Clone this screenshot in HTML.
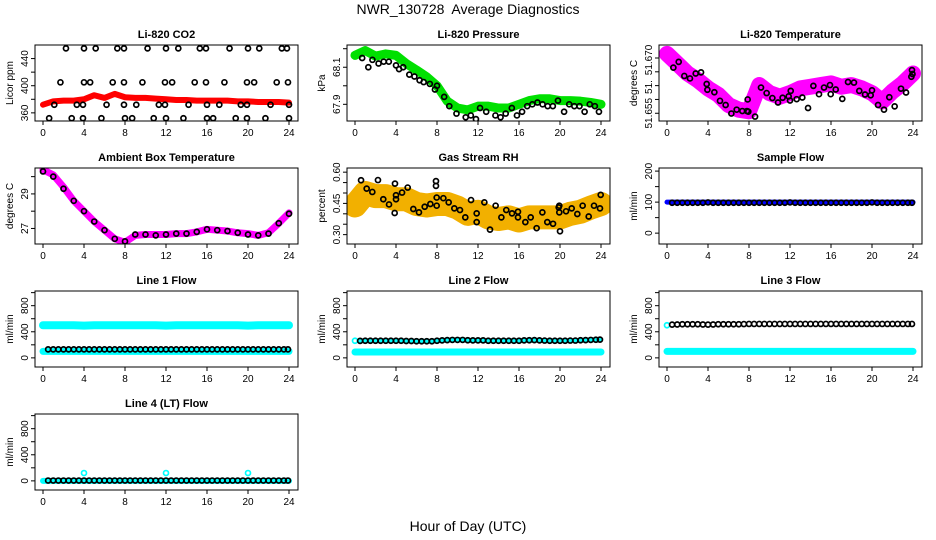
<!DOCTYPE html>
<html><head><meta charset="utf-8"><style>
body{margin:0;background:#fff}
svg{display:block;font-family:"Liberation Sans",sans-serif}
</style></head><body>
<svg id="c" width="936" height="540" viewBox="0 0 936 540">
<text x="468" y="14" text-anchor="middle" font-size="14">NWR_130728&#160; Average Diagnostics</text>
<text x="468" y="531" text-anchor="middle" font-size="14">Hour of Day (UTC)</text>
</svg>
<script>
const hourTicks=[0,4,8,12,16,20,24];
const bandHours=[0,1,2,3,4,5,6,7,8,9,10,11,12,13,14,15,16,17,18,19,20,21,22,23,24];
const halfHours=[0.5,1,1.5,2,2.5,3,3.5,4,4.5,5,5.5,6,6.5,7,7.5,8,8.5,9,9.5,10,10.5,11,11.5,12,12.5,13,13.5,14,14.5,15,15.5,16,16.5,17,17.5,18,18.5,19,19.5,20,20.5,21,21.5,22,22.5,23,23.5,23.9];
// CO2
const co2Band=[372,377,378,378,380,386,382,388,383,382,382,381,380,379,379,378,378,378,378,377,377,376,376,376,375];
const co2CircH=[2.24,4.0,5.14,7.25,7.9,10.2,12.0,13.2,15.3,15.9,18.2,20.0,21.1,23.3,23.8,1.7,4.0,4.6,6.8,7.9,9.7,11.9,12.6,14.8,15.9,17.7,19.9,20.6,22.8,23.9,1.1,3.3,3.9,6.2,7.9,9.1,11.3,11.9,14.2,16.0,17.2,19.3,19.9,22.2,24.0,0.6,2.8,3.9,5.7,8.0,8.7,10.8,12.0,13.7,16.0,16.6,18.8,19.9,21.7,24.0];
const co2CircV=[455,455,455,455,455,455,455,455,455,455,455,455,455,455,455,405,405,405,405,405,405,405,405,405,405,405,405,405,405,405,372,372,372,372,372,372,372,372,372,372,372,372,372,372,372,352,352,352,352,352,352,352,352,352,352,352,352,352,352,352];
// Pressure
const presBand=[68.164,68.19,68.16,68.172,68.164,68.12,68.085,68.048,68.0,67.917,67.88,67.87,67.89,67.89,67.88,67.88,67.9,67.92,67.93,67.93,67.92,67.92,67.917,67.91,67.90];
const presCircH=[0.7,1.3,1.7,2.3,2.8,3.3,4,4.3,4.7,5.3,5.8,6.3,6.7,7.3,7.8,8,8.7,9.2,9.9,10.8,11.3,11.8,12.2,12.8,13.7,14.2,14.7,15.3,15.8,16.3,16.8,17.3,17.8,18.3,18.8,19.3,19.8,20.4,20.9,21.4,21.9,22.4,22.9,23.4,23.8];
const presCircV=[68.15,68.1,68.14,68.12,68.13,68.13,68.11,68.09,68.1,68.06,68.05,68.03,68.02,68.01,67.98,68.0,67.94,67.89,67.85,67.83,67.84,67.82,67.88,67.86,67.84,67.83,67.85,67.88,67.84,67.86,67.89,67.9,67.91,67.9,67.89,67.89,67.92,67.86,67.9,67.89,67.89,67.86,67.9,67.89,67.86];
// Li-820 temperature
const tempBand=[51.6765,51.673,51.6694,51.667,51.664,51.6617,51.658,51.6563,51.6557,51.6652,51.6623,51.661,51.6623,51.664,51.6646,51.6652,51.6658,51.6646,51.6652,51.664,51.6623,51.6593,51.6629,51.6658,51.6694];
const tempCircH=[0.62,1.14,1.69,2.24,2.8,3.32,3.87,3.94,4.62,5.17,5.72,6.28,6.8,7.35,7.8,7.93,7.87,8.59,9.17,9.72,10.28,10.83,11.28,11.87,12.0,12.07,12.65,13.2,13.76,14.28,14.83,15.32,15.9,15.97,16.46,17.1,17.66,18.24,18.76,19.32,19.87,20.0,20.59,21.17,21.69,22.21,22.83,23.32,23.84,23.9,23.95];
const tempCircV=[51.6715,51.6736,51.6685,51.6676,51.6694,51.6698,51.6656,51.6635,51.6626,51.6595,51.658,51.6549,51.6563,51.6558,51.6558,51.6556,51.66,51.6538,51.6643,51.6623,51.6605,51.6589,51.6606,51.6611,51.6596,51.6631,51.6601,51.6607,51.6569,51.6649,51.6619,51.6643,51.6652,51.6619,51.6636,51.6602,51.6663,51.6661,51.6631,51.6618,51.6615,51.6633,51.658,51.6563,51.6608,51.6575,51.6639,51.6625,51.6682,51.6706,51.6692];
// Ambient box temperature
const ambBand=[30.4,30.1,29.4,28.6,28.0,27.4,26.9,26.4,26.2,26.6,26.65,26.65,26.65,26.7,26.7,26.8,26.95,26.9,26.85,26.75,26.7,26.6,26.75,27.3,27.9];
const ambCircV=[30.3,30.0,29.3,28.6,28.0,27.4,26.9,26.4,26.25,26.65,26.65,26.6,26.65,26.7,26.7,26.8,26.95,26.9,26.85,26.75,26.65,26.6,26.7,27.3,27.85];
// Gas stream RH
const rhBand=[0.44,0.50,0.485,0.485,0.47,0.47,0.447,0.44,0.447,0.447,0.43,0.40,0.41,0.383,0.375,0.383,0.368,0.383,0.383,0.383,0.383,0.40,0.41,0.43,0.447];
const rhCircH=[0.59,1.14,1.69,2.24,2.76,3.32,3.87,3.9,4.0,4.0,4.59,5.14,5.69,6.24,6.8,7.35,7.9,7.9,7.97,7.97,8.62,9.14,9.69,10.24,10.76,11.32,11.87,11.87,12.62,13.17,13.72,14.28,14.76,15.32,15.9,15.9,16.62,17.14,17.72,18.28,18.76,19.32,19.87,19.93,19.93,20.0,20.59,21.14,21.69,22.21,22.8,23.32,23.9,23.97];
const rhCircV=[0.561,0.521,0.505,0.562,0.47,0.445,0.404,0.545,0.489,0.47,0.502,0.526,0.423,0.407,0.434,0.447,0.557,0.534,0.478,0.439,0.475,0.455,0.426,0.418,0.383,0.466,0.402,0.36,0.455,0.324,0.439,0.383,0.418,0.402,0.41,0.383,0.36,0.383,0.331,0.407,0.36,0.352,0.431,0.439,0.407,0.316,0.412,0.426,0.399,0.439,0.387,0.439,0.426,0.491];
// Flows
const sampleBand=[100,100,100,100,100,100,100,100,100,100,100,100,100,100,100,100,100,100,100,100,100,100,100,100,100];
const sampleCircV=[98,98,98,98,98,98,98,99,98,98,98,98,98,98,98,98,98,98,98,98,98,98,98,99,98,98,98,98,98,98,98,98,98,98,98,98,98,98,98,99,98,98,98,98,98,98,98,98];
const line1BandHigh=[500,500,500,500,495,500,500,500,500,500,500,500,495,500,500,500,500,500,500,500,495,500,500,500,500];
const line1BandLow=[100,100,100,100,100,100,100,100,100,100,100,100,100,100,100,100,100,100,100,100,100,100,100,100,100];
const line1CircV=[130,130,130,130,130,130,130,130,130,130,130,130,130,130,130,130,130,130,130,130,130,130,130,130,130,130,130,130,130,130,130,130,130,130,130,130,130,130,130,130,130,130,130,130,130,130,130,130];
const line2Band=[90,90,90,90,90,90,90,90,90,90,90,90,90,90,90,90,90,90,90,90,90,90,90,90,90];
const line2CircV=[260,262,262,262,262,262,262,262,262,258,258,255,255,255,255,262,268,272,275,275,275,270,268,268,268,262,262,262,262,262,262,262,268,270,272,268,265,262,262,262,262,265,265,270,272,275,278,280];
const line3Band=[100,100,100,100,100,100,100,100,100,100,100,100,100,100,100,100,100,100,100,100,100,100,100,100,100];
const line3CircV=[510,512,515,515,515,515,512,510,512,515,515,515,515,515,518,520,520,520,520,520,520,520,520,520,520,520,520,520,520,520,520,520,520,520,520,520,520,520,520,520,520,520,520,520,520,520,520,520];
const line4Band=[0,0,0,0,0,0,0,0,0,0,0,0,0,0,0,0,0,0,0,0,0,0,0,0,0];
const line4CircV=[5,5,5,5,5,5,5,5,5,5,5,5,5,5,5,5,5,5,5,5,5,5,5,5,5,5,5,5,5,5,5,5,5,5,5,5,5,5,5,5,5,5,5,5,5,5,5,5];
const line4SpikeH=[4,12,20];
const line4SpikeV=[120,120,120];

const NS='http://www.w3.org/2000/svg';
const svg=document.getElementById('c');
function mk(tag,attrs,parent){const e=document.createElementNS(NS,tag);for(const k in attrs)e.setAttribute(k,attrs[k]);(parent||svg).appendChild(e);return e;}
const ROW_TOP=[45,168,291,414],PH=76;
function panel(col,row,title,ylab,ymin,ymax,ticks,labels,name){
  const g=mk('g',{});
  
  
  const L=col*312+35,R=col*312+298,T=ROW_TOP[row],B=T+PH;
  const xs=h=>col*312+43+h*246/24;
  const ys=v=>T+(ymax-v)/(ymax-ymin)*PH;
  const t=mk('text',{x:(L+R)/2,y:T-7,'text-anchor':'middle','font-size':11,'font-weight':'bold'},g);t.textContent=title;
  
  
  const yl=mk('text',{x:0,y:0,'text-anchor':'middle','font-size':10,transform:`translate(${col*312+13},${(T+B)/2}) rotate(-90)`},g);yl.textContent=ylab;
  
  
  hourTicks.forEach(h=>{const x=xs(h);mk('line',{x1:x,x2:x,y1:B,y2:B+4,stroke:'#000'},g);
    const tl=mk('text',{x:x,y:B+15,'text-anchor':'middle','font-size':10},g);tl.textContent=h;
    
    });
  ticks.forEach((v,i)=>{const y=ys(v);mk('line',{x1:L-4,x2:L,y1:y,y2:y,stroke:'#000'},g);});
  labels.forEach(([v,s])=>{const y=ys(v);const tl=mk('text',{x:0,y:0,'text-anchor':'middle','font-size':10,transform:`translate(${L-7},${y}) rotate(-90)`},g);tl.textContent=s;
    
    });
  const clip='clip'+col+row;
  const cp=mk('clipPath',{id:clip},g);mk('rect',{x:L,y:T,width:R-L,height:PH},cp);
  const plot=mk('g',{'clip-path':`url(#${clip})`},g);
  mk('rect',{x:L,y:T,width:R-L,height:PH,fill:'none',stroke:'#000','stroke-width':1},g);
  return {band(hs,vs,color,w){const p=mk('polyline',{points:hs.map((h,i)=>xs(h)+','+ys(vs[i])).join(' '),fill:'none',stroke:color,'stroke-width':w,'stroke-linejoin':'round','stroke-linecap':'round'},plot);
      
      },
    circles(hs,vs,color){hs.forEach((h,i)=>{const c=mk('circle',{cx:xs(h),cy:ys(vs[i]),r:2.5,fill:'none',stroke:color,'stroke-width':1.7},plot);
      
      });}};
}
let p;
p=panel(0,0,'Li-820 CO2','Licor ppm',348,460,[360,380,400,420,440],[[360,'360'],[400,'400'],[440,'440']],'co2');
p.band(bandHours,co2Band,'#ff0000',6);p.circles(co2CircH,co2CircV,'#000');
p=panel(1,0,'Li-820 Pressure','kPa',67.81,68.22,[67.9,68.0,68.1,68.2],[[67.9,'67.9'],[68.1,'68.1']],'pressure');
p.band(bandHours,presBand,'#00e000',9);p.circles(presCircH,presCircV,'#000');
p=panel(2,0,'Li-820 Temperature','degrees C',51.6522,51.6797,[51.655,51.66,51.665,51.67,51.675],[[51.655,'51.655'],[51.6645,'51.'],[51.6743,'51.670']],'li820-temperature');
p.band(bandHours,tempBand,'#ff00ff',16);p.circles(tempCircH,tempCircV,'#000');
p=panel(0,1,'Ambient Box Temperature','degrees C',26.1,30.5,[27,28,29,30],[[27,'27'],[29,'29']],'ambient-temperature');
p.band(bandHours,ambBand,'#ff00ff',7);p.circles(bandHours,ambCircV,'#000');
p=panel(1,1,'Gas Stream RH','percent',0.255,0.62,[0.30,0.35,0.40,0.45,0.50,0.55,0.60],[[0.30,'0.30'],[0.45,'0.45'],[0.60,'0.60']],'gas-stream-rh');
p.band(bandHours,rhBand,'#f2b000',24);p.circles(rhCircH,rhCircV,'#000');
p=panel(2,1,'Sample Flow','ml/min',-35,210,[0,50,100,150,200],[[0,'0'],[100,'100'],[200,'200']],'sample-flow');
p.band(bandHours,sampleBand,'#0000ff',5);p.circles(halfHours,sampleCircV,'#000');
const fT=[0,200,400,600,800,1000],fL=[[0,'0'],[400,'400'],[800,'800']];
p=panel(0,2,'Line 1 Flow','ml/min',-140,1025,fT,fL,'line1-flow');
p.band(bandHours,line1BandHigh,'#00ffff',8);p.band(bandHours,line1BandLow,'#00ffff',7);p.circles(halfHours,line1CircV,'#000');
p=panel(1,2,'Line 2 Flow','ml/min',-140,1025,fT,fL,'line2-flow');
p.band(bandHours,line2Band,'#00ffff',7);p.band(halfHours,line2CircV,'#00ffff',5);p.circles([0],[262],'#00ffff');p.circles(halfHours,line2CircV,'#000');
p=panel(2,2,'Line 3 Flow','ml/min',-140,1025,fT,fL,'line3-flow');
p.band(bandHours,line3Band,'#00ffff',7);p.circles([0],[500],'#00ffff');p.circles(halfHours,line3CircV,'#000');
p=panel(0,3,'Line 4 (LT) Flow','ml/min',-140,1025,fT,fL,'line4-flow');
p.band(bandHours,line4Band,'#00ffff',6);p.circles(line4SpikeH,line4SpikeV,'#00ffff');p.circles(halfHours,line4CircV,'#000');
</script>
</body></html>
